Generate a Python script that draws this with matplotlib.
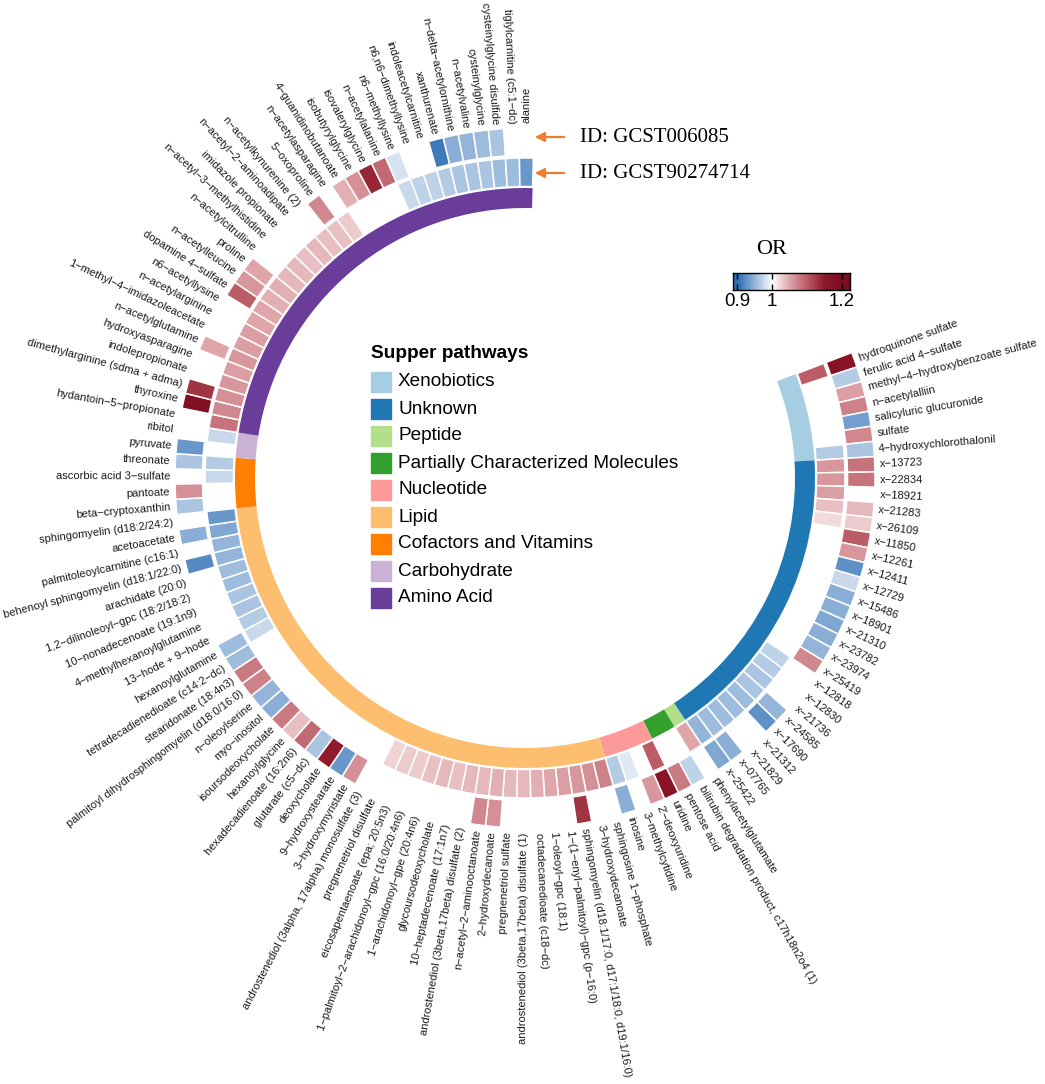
import numpy as np
import matplotlib
matplotlib.use("Agg")
import matplotlib.pyplot as plt
from matplotlib.colors import LinearSegmentedColormap, Normalize
from matplotlib.patches import Rectangle

nan = np.nan

# supper pathways (clockwise order) and how many metabolites each holds
pathways = ["Xenobiotics", "Unknown", "Peptide", "Partially Characterized Molecules",
            "Nucleotide", "Lipid", "Cofactors and Vitamins", "Carbohydrate", "Amino Acid"]
pathway_colors = ["#a6cee3", "#1f78b4", "#b2df8a", "#33a02c", "#fb9a99",
                  "#fdbf6f", "#ff7f00", "#cab2d6", "#6a3d9a"]
pathway_counts = [7, 24, 1, 2, 4, 40, 4, 2, 33]

metabolites = [
    # xenobiotics
    "hydroquinone sulfate", "ferulic acid 4-sulfate", "methyl-4-hydroxybenzoate sulfate",
    "n-acetylalliin", "salicyluric glucuronide", "sulfate", "4-hydroxychlorothalonil",
    # unknown
    "x-13723", "x-22834", "x-18921", "x-21283", "x-26109", "x-11850", "x-12261", "x-12411",
    "x-12729", "x-15486", "x-18901", "x-21310", "x-23782", "x-23974", "x-25419", "x-12818",
    "x-12830", "x-21736", "x-24585", "x-17690", "x-21312", "x-21829", "x-07765", "x-25422",
    # peptide, partially characterized
    "phenylacetylglutamate", "bilirubin degradation product, c17h18n2o4 (1)", "pentose acid",
    # nucleotide
    "uridine", "2'-deoxyuridine", "3-methylcytidine", "inosine",
    # lipid
    "sphingosine 1-phosphate", "3-hydroxydecanoate",
    "sphingomyelin (d18:1/17:0, d17:1/18:0, d19:1/16:0)", "1-(1-enyl-palmitoyl)-gpc (p-16:0)",
    "1-oleoyl-gpc (18:1)", "octadecanedioate (c18-dc)", "androstenediol (3beta,17beta) disulfate (1)",
    "pregnenetriol sulfate", "2-hydroxydecanoate", "n-acetyl-2-aminooctanoate",
    "androstenediol (3beta,17beta) disulfate (2)", "10-heptadecenoate (17:1n7)",
    "glycoursodeoxycholate", "1-arachidonoyl-gpe (20:4n6)",
    "1-palmitoyl-2-arachidonoyl-gpc (16:0/20:4n6)", "eicosapentaenoate (epa; 20:5n3)",
    "pregnenetriol disulfate", "androstenediol (3alpha, 17alpha) monosulfate (3)",
    "3-hydroxymyristate", "9-hydroxystearate", "deoxycholate", "glutarate (c5-dc)",
    "hexadecadienoate (16:2n6)", "hexanoylglycine", "isoursodeoxycholate", "myo-inositol",
    "n-oleoylserine", "palmitoyl dihydrosphingomyelin (d18:0/16:0)", "stearidonate (18:4n3)",
    "tetradecadienedioate (c14:2-dc)", "hexanoylglutamine", "13-hode + 9-hode",
    "4-methylhexanoylglutamine", "10-nonadecenoate (19:1n9)", "1,2-dilinoleoyl-gpc (18:2/18:2)",
    "arachidate (20:0)", "behenoyl sphingomyelin (d18:1/22:0)", "palmitoleoylcarnitine (c16:1)",
    "acetoacetate", "sphingomyelin (d18:2/24:2)",
    # cofactors and vitamins, carbohydrate
    "beta-cryptoxanthin", "pantoate", "ascorbic acid 3-sulfate", "threonate",
    "pyruvate", "ribitol",
    # amino acid
    "hydantoin-5-propionate", "thyroxine", "dimethylarginine (sdma + adma)", "indolepropionate",
    "hydroxyasparagine", "n-acetylglutamine", "1-methyl-4-imidazoleacetate", "n-acetylarginine",
    "n6-acetyllysine", "dopamine 4-sulfate", "n-acetylleucine", "proline", "n-acetylcitrulline",
    "n-acetyl-3-methylhistidine", "imidazole propionate", "n-acetyl-2-aminoadipate",
    "n-acetylkynurenine (2)", "5-oxoproline", "n-acetylasparagine", "4-guanidinobutanoate",
    "isobutyrylglycine", "isovalerylglycine", "n-acetylalanine", "n6-methyllysine",
    "n6,n6-dimethyllysine", "indoleacetylcarnitine", "xanthurenate", "n-delta-acetylornithine",
    "n-acetylvaline", "cysteinylglycine", "cysteinylglycine disulfide", "tiglylcarnitine (c5:1-dc)",
    "alanine",
]

# OR, inner ring (GCST90274714)
or_gcst90274714 = [
    1.10, nan, nan, nan, nan, nan, 0.965,
    1.06, 1.06, 1.055, 1.035, 1.02, nan, nan, nan, nan, nan, nan, nan, nan, nan, nan, 0.97,
    0.965, 0.96, 0.96, 0.955, 0.955, 0.955, 0.955, 0.95,
    1.05, nan, nan,
    1.10, nan, 0.985, 0.965,
    1.075, 1.065, 1.06, 1.055, 1.05, 1.045, 1.04, 1.04, 1.045, 1.04, 1.04, 1.035, 1.04, 1.035,
    1.03, 1.03, 1.025, nan, nan, nan, nan, nan, nan, nan, nan, nan, nan, nan, nan, nan,
    0.975, 0.965, 0.96, 0.96, 0.955, 0.955, 0.95, 0.95, 0.94, 0.93,
    nan, nan, 0.975, 0.965, nan, 0.975,
    1.085, 1.07, 1.065, 1.06, 1.055, 1.06, 1.055, 1.055, 1.05, 1.05, 1.045, 1.045, 1.04,
    1.04, 1.035, 1.04, 1.035, 1.035, 1.03, nan, nan, nan, nan, 0.975, 0.97, 0.97, 0.965,
    0.96, 0.96, 0.96, 0.955, 0.955, 0.93,
]

# OR, outer ring (GCST006085)
or_gcst006085 = [
    1.17, 0.965, 1.055, 1.075, 0.935, 1.07, 0.96,
    1.085, 1.085, nan, 1.04, 1.03, 1.10, 1.06, 0.925, 0.975, 0.945, 0.945, 0.94, 0.945, 0.95,
    1.07, nan, nan, nan, 0.95, 0.925, nan, nan, 0.945, 0.94,
    nan, 0.97, 1.08,
    1.17, 1.06, nan, 0.945,
    nan, nan, 1.13, nan, nan, nan, nan, nan, 1.065, 1.07, nan, nan, nan, nan, nan, nan, nan,
    nan, 1.065, 0.93, 1.15, 0.96, 1.09, 1.035, 1.08, 0.945, 0.95, 1.075, 1.08, 0.955, 0.955,
    nan, nan, nan, nan, nan, 0.92, nan, 0.945, nan,
    0.96, 1.065, nan, 0.96, 0.93, nan,
    nan, 1.19, 1.13, nan, nan, 1.05, nan, nan, nan, 1.10, 1.06, 1.05, nan, nan, nan, nan, nan,
    1.07, nan, 1.045, 1.065, 1.14, 1.09, 0.98, nan, nan, 0.91, 0.945, 0.95, 0.955, 0.96,
    nan, nan,
]

W, H = 1045, 1084
cx, cy = 525, 478        # centre of the circle in pixels
R = 360
start, step = 19.75, 2.5  # angle of the first metabolite, degrees per metabolite

cmap = LinearSegmentedColormap.from_list(
    "or", [(0.0, "#2b6cb3"), (1 / 3, "#ffffff"), (0.5, "#dfa6aa"), (2 / 3, "#bb5c66"),
           (5 / 6, "#8e1a2b"), (1.0, "#7d0c1f")])
norm = Normalize(0.9, 1.2, clip=True)

fig = plt.figure(figsize=(W / 100, H / 100), dpi=100)
ax = fig.add_axes([(cx - R) / W, (H - cy - R) / H, 2 * R / W, 2 * R / H], projection="polar")
ax.set_ylim(0, R)
ax.set_axis_off()

n = len(metabolites)
theta_deg = start - step * np.arange(n)
theta = np.deg2rad(theta_deg)
w = np.deg2rad(step)

# pathway band
first = np.cumsum([0] + pathway_counts[:-1])
for col, s, c in zip(pathway_colors, first, pathway_counts):
    mid = start - step * (s + (c - 1) / 2)
    ax.bar(np.deg2rad(mid), 20, width=w * c, bottom=270, color=col, linewidth=0)


def ring(vals, r0, r1):
    vals = np.array(vals, float)
    ok = ~np.isnan(vals)
    ax.bar(theta[ok], r1 - r0, width=w, bottom=r0, color=cmap(norm(vals[ok])),
           edgecolor="white", linewidth=1.1)


ring(or_gcst90274714, 291.5, 320)
ring(or_gcst006085, 322.5, 350)

for t, name in zip(theta_deg, metabolites):
    a = t % 360
    if 90 < a < 270:
        rot, ha = a - 180, "right"
    else:
        rot, ha = (a if a <= 90 else a - 360), "left"
    ax.text(np.deg2rad(t), 355, name.replace("-", "\u2212"), rotation=rot,
            rotation_mode="anchor", ha=ha, va="center", fontsize=8,
            family="Liberation Sans", color="#1a1a1a")

# overlay in pixel coordinates for legend and notes
ov = fig.add_axes([0, 0, 1, 1])
ov.set_xlim(0, W)
ov.set_ylim(H, 0)
ov.set_axis_off()

ov.text(371, 353, "Supper pathways", fontsize=13.7, fontweight="bold",
        family="Liberation Sans", va="center", ha="left")
for i, (p, col) in enumerate(zip(pathways, pathway_colors)):
    y = 382 + 27 * i
    ov.add_patch(Rectangle((371, y - 10), 20, 20, color=col))
    ov.text(398, y, p, fontsize=13.7, family="Liberation Sans", va="center", ha="left")

for y, lab in [(137, "ID: GCST006085"), (173, "ID: GCST90274714")]:
    ov.annotate("", xy=(532, y), xytext=(567, y),
                arrowprops=dict(arrowstyle="-|>", color="#f07d2e", lw=1.6, mutation_scale=14))
    ov.text(580, y, lab, fontsize=15, family="Liberation Serif", va="center", ha="left")

ov.text(772, 250, "OR", fontsize=16, family="Liberation Serif", va="center", ha="center")

# colour key
lo, hi = 0.888, 1.223
cax = fig.add_axes([733 / W, (H - 290) / H, 117 / W, 17 / H])
grad = np.linspace(lo, hi, 300)
cax.imshow(cmap(norm(grad))[None, :, :], aspect="auto", extent=[lo, hi, 0, 1])
cax.set_xlim(lo, hi)
cax.set_yticks([])
cax.set_xticks([0.9, 1, 1.2])
cax.set_xticklabels(["0.9", "1", "1.2"], fontsize=13.5, family="Liberation Sans")
cax.tick_params(axis="x", direction="in", length=4, top=True, bottom=True, width=1, pad=2)
for s in cax.spines.values():
    s.set_linewidth(1)

fig.savefig("out.png", dpi=100)
